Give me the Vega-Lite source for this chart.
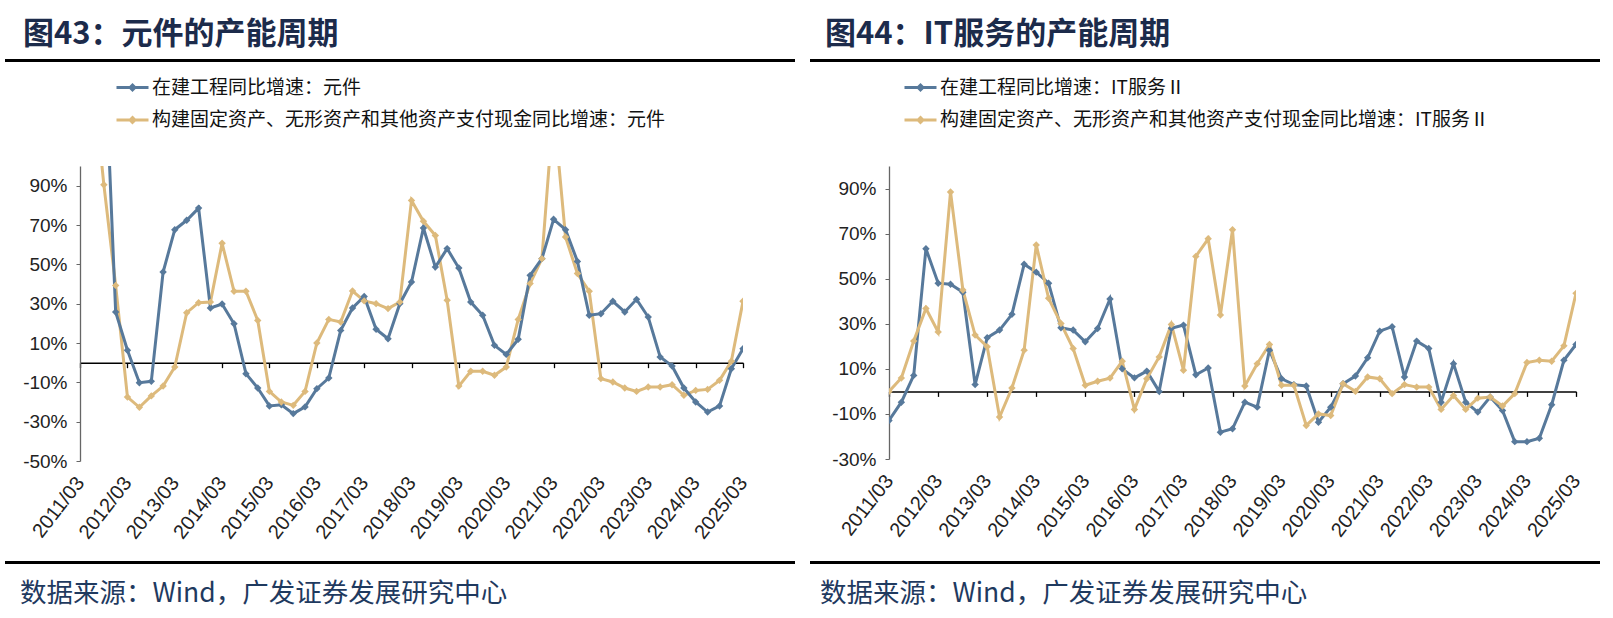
{
  "$schema": "https://vega.github.io/schema/vega-lite/v6.json",
  "background": "white",
  "padding": {"left": 5, "top": 19, "right": 0, "bottom": 12},
  "config": {"view": {"stroke": null}, "font": "Liberation Sans"},
  "datasets": {
    "left": [
      {"d": "2011-06-01", "b": 150},
      {"d": "2011-09-01", "a": 170, "b": 90.5},
      {"d": "2011-12-01", "a": 25.8, "b": 39.3},
      {"d": "2012-03-01", "a": 6.3, "b": -17.5},
      {"d": "2012-06-01", "a": -10.2, "b": -22.7},
      {"d": "2012-09-01", "a": -9.5, "b": -16.9},
      {"d": "2012-12-01", "a": 46.1, "b": -11.9},
      {"d": "2013-03-01", "a": 67.6, "b": -2.2},
      {"d": "2013-06-01", "a": 72.4, "b": 25.4},
      {"d": "2013-09-01", "a": 78.6, "b": 30.5},
      {"d": "2013-12-01", "a": 27.8, "b": 30.8},
      {"d": "2014-03-01", "a": 29.8, "b": 60.7},
      {"d": "2014-06-01", "a": 19.8, "b": 36.3},
      {"d": "2014-09-01", "a": -5.6, "b": 36.3},
      {"d": "2014-12-01", "a": -12.9, "b": 21.5},
      {"d": "2015-03-01", "a": -22, "b": -14.6},
      {"d": "2015-06-01", "a": -21.4, "b": -20},
      {"d": "2015-09-01", "a": -25.9, "b": -21.7},
      {"d": "2015-12-01", "a": -22.5, "b": -14.6},
      {"d": "2016-03-01", "a": -13.2, "b": 10},
      {"d": "2016-06-01", "a": -7.8, "b": 22},
      {"d": "2016-09-01", "a": 16.4, "b": 20.7},
      {"d": "2016-12-01", "a": 27.8, "b": 36.4},
      {"d": "2017-03-01", "a": 33.7, "b": 31.4},
      {"d": "2017-06-01", "a": 17, "b": 30},
      {"d": "2017-09-01", "a": 12.2, "b": 27.5},
      {"d": "2017-12-01", "a": 30, "b": 30.8},
      {"d": "2018-03-01", "a": 41, "b": 82.5},
      {"d": "2018-06-01", "a": 68.5, "b": 71.9},
      {"d": "2018-09-01", "a": 48.6, "b": 64.7},
      {"d": "2018-12-01", "a": 58, "b": 31.7},
      {"d": "2019-03-01", "a": 48.1, "b": -11.9},
      {"d": "2019-06-01", "a": 30.8, "b": -4.4},
      {"d": "2019-09-01", "a": 24.1, "b": -4.4},
      {"d": "2019-12-01", "a": 8.8, "b": -6.4},
      {"d": "2020-03-01", "a": 4.2, "b": -2.2},
      {"d": "2020-06-01", "a": 11.9, "b": 22},
      {"d": "2020-09-01", "a": 44.4, "b": 40.2},
      {"d": "2020-12-01", "a": 52.9, "b": 52.9},
      {"d": "2021-03-01", "a": 72.9, "b": 130},
      {"d": "2021-06-01", "a": 67.6, "b": 63.9},
      {"d": "2021-09-01", "a": 51.5, "b": 45.3},
      {"d": "2021-12-01", "a": 24.1, "b": 36.3},
      {"d": "2022-03-01", "a": 24.9, "b": -8.1},
      {"d": "2022-06-01", "a": 31.2, "b": -9.8},
      {"d": "2022-09-01", "a": 25.8, "b": -12.9},
      {"d": "2022-12-01", "a": 32.2, "b": -14.6},
      {"d": "2023-03-01", "a": 23.2, "b": -12.4},
      {"d": "2023-06-01", "a": 2.9, "b": -12.4},
      {"d": "2023-09-01", "a": -1.7, "b": -11.2},
      {"d": "2023-12-01", "a": -12.9, "b": -16.6},
      {"d": "2024-03-01", "a": -20, "b": -14.1},
      {"d": "2024-06-01", "a": -25.1, "b": -13.6},
      {"d": "2024-09-01", "a": -22, "b": -9.0},
      {"d": "2024-12-01", "a": -3.1, "b": 0.7},
      {"d": "2025-03-01", "a": 7.1, "b": 31.2}
    ],
    "right": [
      {"d": "2011-03-01", "a": -12.9, "b": 0},
      {"d": "2011-06-01", "a": -4.8, "b": 5.9},
      {"d": "2011-09-01", "a": 7.1, "b": 22.3},
      {"d": "2011-12-01", "a": 63.3, "b": 36.8},
      {"d": "2012-03-01", "a": 48, "b": 26.4},
      {"d": "2012-06-01", "a": 47.5, "b": 88.5},
      {"d": "2012-09-01", "a": 44, "b": 45},
      {"d": "2012-12-01", "a": 3.0, "b": 25},
      {"d": "2013-03-01", "a": 23.8, "b": 19.8},
      {"d": "2013-06-01", "a": 27.2, "b": -11.4},
      {"d": "2013-09-01", "a": 34.2, "b": 1.5},
      {"d": "2013-12-01", "a": 56.4, "b": 18.3},
      {"d": "2014-03-01", "a": 52.9, "b": 65},
      {"d": "2014-06-01", "a": 48, "b": 41.3},
      {"d": "2014-09-01", "a": 28.2, "b": 30.1},
      {"d": "2014-12-01", "a": 27.2, "b": 19},
      {"d": "2015-03-01", "a": 22, "b": 2.7},
      {"d": "2015-06-01", "a": 27.9, "b": 4.5},
      {"d": "2015-09-01", "a": 41, "b": 5.9},
      {"d": "2015-12-01", "a": 10, "b": 13.4},
      {"d": "2016-03-01", "a": 6, "b": -8},
      {"d": "2016-06-01", "a": 9, "b": 5.6},
      {"d": "2016-09-01", "a": 0, "b": 15.3},
      {"d": "2016-12-01", "a": 28, "b": 29.7},
      {"d": "2017-03-01", "a": 29.4, "b": 9.4},
      {"d": "2017-06-01", "a": 7.4, "b": 59.9},
      {"d": "2017-09-01", "a": 10.4, "b": 67.7},
      {"d": "2017-12-01", "a": -18.1, "b": 33.9},
      {"d": "2018-03-01", "a": -16.6, "b": 71.7},
      {"d": "2018-06-01", "a": -4.8, "b": 2.4},
      {"d": "2018-09-01", "a": -7.0, "b": 12.3},
      {"d": "2018-12-01", "a": 18.3, "b": 20.8},
      {"d": "2019-03-01", "a": 5.6, "b": 2.7},
      {"d": "2019-06-01", "a": 3.0, "b": 2.7},
      {"d": "2019-09-01", "a": 2.4, "b": -15.1},
      {"d": "2019-12-01", "a": -13.7, "b": -10},
      {"d": "2020-03-01", "a": -7.0, "b": -10.7},
      {"d": "2020-06-01", "a": 3.4, "b": 3.4},
      {"d": "2020-09-01", "a": 6.8, "b": 0},
      {"d": "2020-12-01", "a": 14.9, "b": 6.4},
      {"d": "2021-03-01", "a": 26.7, "b": 5.6},
      {"d": "2021-06-01", "a": 28.7, "b": -1},
      {"d": "2021-09-01", "a": 6.4, "b": 3.0},
      {"d": "2021-12-01", "a": 22.3, "b": 1.9},
      {"d": "2022-03-01", "a": 19, "b": 1.9},
      {"d": "2022-06-01", "a": -4.8, "b": -8},
      {"d": "2022-09-01", "a": 12.3, "b": -1.8},
      {"d": "2022-12-01", "a": -4.8, "b": -8},
      {"d": "2023-03-01", "a": -9.2, "b": -3.0},
      {"d": "2023-06-01", "a": -2.5, "b": -2.5},
      {"d": "2023-09-01", "a": -8.5, "b": -6.5},
      {"d": "2023-12-01", "a": -22.3, "b": -1.0},
      {"d": "2024-03-01", "a": -22.3, "b": 12.8},
      {"d": "2024-06-01", "a": -20.8, "b": 13.8},
      {"d": "2024-09-01", "a": -5.9, "b": 13.4},
      {"d": "2024-12-01", "a": 13.8, "b": 20.2},
      {"d": "2025-03-01", "a": 20.8, "b": 43.5}
    ]
  },
  "columns": 1,
  "spacing": 8,
  "resolve": {"scale": {"color": "independent"}, "legend": {"color": "independent"}},
  "concat": [
    {
      "spacing": 15,
      "hconcat": [
        {
          "width": 790, "height": 3,
          "data": {"values": []},
          "mark": "point",
          "view": {"fill": "#000000", "stroke": null},
          "title": {"text": "图43：元件的产能周期", "anchor": "start", "dx": 18, "offset": 8, "fontSize": 31, "font": "Noto Sans CJK SC", "fontWeight": "bold", "color": "#1C2B4B"}
        },
        {
          "width": 790, "height": 3,
          "data": {"values": []},
          "mark": "point",
          "view": {"fill": "#000000", "stroke": null},
          "title": {"text": "图44：IT服务的产能周期", "anchor": "start", "dx": 15, "offset": 8, "fontSize": 31, "font": "Noto Sans CJK SC", "fontWeight": "bold", "color": "#1C2B4B"}
        }
      ]
    },
    {
      "columns": 1,
      "spacing": 18,
      "resolve": {"scale": {"color": "independent"}, "legend": {"color": "independent"}},
      "concat": [
        {
          "spacing": 0,
          "resolve": {"scale": {"color": "independent"}, "legend": {"color": "independent"}},
          "hconcat": [
            {"width": 1, "height": 1, "data": {"values": []}, "mark": "point"},
            {
              "width": 663, "height": 295,
              "data": {"name": "left"},
              "transform": [{"fold": ["a", "b"], "as": ["k", "v"]}, {"filter": "isValid(datum.v)"}],
              "layer": [
                {
                  "mark": {"type": "line", "strokeWidth": 3, "clip": true},
                  "encoding": {
                    "x": {"field": "d", "type": "temporal",
                      "scale": {"type": "utc", "domain": [{"year": 2011, "month": 3, "date": 1, "utc": true}, {"year": 2025, "month": 3, "date": 1, "utc": true}]},
                      "axis": {"orient": "bottom", "title": null, "format": "%Y/%m", "labelAngle": -52, "domain": false, "ticks": false, "tickSize": 0, "grid": false, "labelPadding": 18, "labelFontSize": 20, "labelColor": "#222222", "labelOverlap": false, "labelFlush": false, "labelBound": false,
                        "values": [{"year": 2011, "month": 3, "date": 1, "utc": true}, {"year": 2012, "month": 3, "date": 1, "utc": true}, {"year": 2013, "month": 3, "date": 1, "utc": true}, {"year": 2014, "month": 3, "date": 1, "utc": true}, {"year": 2015, "month": 3, "date": 1, "utc": true}, {"year": 2016, "month": 3, "date": 1, "utc": true}, {"year": 2017, "month": 3, "date": 1, "utc": true}, {"year": 2018, "month": 3, "date": 1, "utc": true}, {"year": 2019, "month": 3, "date": 1, "utc": true}, {"year": 2020, "month": 3, "date": 1, "utc": true}, {"year": 2021, "month": 3, "date": 1, "utc": true}, {"year": 2022, "month": 3, "date": 1, "utc": true}, {"year": 2023, "month": 3, "date": 1, "utc": true}, {"year": 2024, "month": 3, "date": 1, "utc": true}, {"year": 2025, "month": 3, "date": 1, "utc": true}]}},
                    "y": {"field": "v", "type": "quantitative", "scale": {"domain": [-50, 100], "nice": false, "zero": false},
                      "axis": {"title": null, "grid": false, "values": [-50, -30, -10, 10, 30, 50, 70, 90], "labelExpr": "datum.value + '%'", "domainColor": "#666666", "tickColor": "#666666", "tickSize": 4, "labelPadding": 9, "labelFontSize": 19, "labelColor": "#222222", "minExtent": 74, "domainWidth": 1.3}},
                    "color": {"field": "k", "type": "nominal", "scale": {"domain": ["a", "b"], "range": ["#57799B", "#DDBA7C"]},
                      "legend": {"orient": "none", "legendX": 35, "legendY": -96, "title": null, "direction": "vertical", "padding": 0,
                        "symbolType": "M-1,0H1M-0.15,0L0,-0.15L0.15,0L0,0.15Z", "symbolSize": 1024, "symbolStrokeWidth": 3,
                        "labelFontSize": 19, "labelFont": "Noto Sans CJK SC", "labelColor": "#111111", "labelOffset": 2, "rowPadding": 4.5, "labelLimit": 0,
                        "labelExpr": "datum.label == 'a' ? '在建工程同比增速：元件' : '构建固定资产、无形资产和其他资产支付现金同比增速：元件'"}}
                  }
                },
                {
                  "mark": {"type": "point", "shape": "diamond", "filled": true, "size": 55, "opacity": 1, "clip": true},
                  "encoding": {
                    "x": {"field": "d", "type": "temporal",
                      "axis": {"orient": "bottom", "offset": -98.33, "title": null, "labels": false, "ticks": true, "tickSize": 5, "tickColor": "#000000", "tickWidth": 1.3, "domainColor": "#000000", "domainWidth": 1.5, "grid": false,
                        "values": [{"year": 2011, "month": 3, "date": 1, "utc": true}, {"year": 2012, "month": 3, "date": 1, "utc": true}, {"year": 2013, "month": 3, "date": 1, "utc": true}, {"year": 2014, "month": 3, "date": 1, "utc": true}, {"year": 2015, "month": 3, "date": 1, "utc": true}, {"year": 2016, "month": 3, "date": 1, "utc": true}, {"year": 2017, "month": 3, "date": 1, "utc": true}, {"year": 2018, "month": 3, "date": 1, "utc": true}, {"year": 2019, "month": 3, "date": 1, "utc": true}, {"year": 2020, "month": 3, "date": 1, "utc": true}, {"year": 2021, "month": 3, "date": 1, "utc": true}, {"year": 2022, "month": 3, "date": 1, "utc": true}, {"year": 2023, "month": 3, "date": 1, "utc": true}, {"year": 2024, "month": 3, "date": 1, "utc": true}, {"year": 2025, "month": 3, "date": 1, "utc": true}]}},
                    "y": {"field": "v", "type": "quantitative",
                      "axis": {"title": null, "grid": false, "values": [-50, -30, -10, 10, 30, 50, 70, 90], "labelExpr": "datum.value + '%'", "domainColor": "#666666", "tickColor": "#666666", "tickSize": 4, "labelPadding": 9, "labelFontSize": 19, "labelColor": "#222222", "minExtent": 74, "domainWidth": 1.3}},
                    "color": {"field": "k", "type": "nominal"}
                  }
                }
              ],
              "resolve": {"axis": {"x": "independent"}}
            },
            {
              "width": 687, "height": 293,
              "data": {"name": "right"},
              "transform": [{"fold": ["a", "b"], "as": ["k", "v"]}, {"filter": "isValid(datum.v)"}],
              "layer": [
                {
                  "mark": {"type": "line", "strokeWidth": 3, "clip": true},
                  "encoding": {
                    "x": {"field": "d", "type": "temporal",
                      "scale": {"type": "utc", "domain": [{"year": 2011, "month": 3, "date": 1, "utc": true}, {"year": 2025, "month": 3, "date": 1, "utc": true}]},
                      "axis": {"orient": "bottom", "title": null, "format": "%Y/%m", "labelAngle": -52, "domain": false, "ticks": false, "tickSize": 0, "grid": false, "labelPadding": 18, "labelFontSize": 20, "labelColor": "#222222", "labelOverlap": false, "labelFlush": false, "labelBound": false,
                        "values": [{"year": 2011, "month": 3, "date": 1, "utc": true}, {"year": 2012, "month": 3, "date": 1, "utc": true}, {"year": 2013, "month": 3, "date": 1, "utc": true}, {"year": 2014, "month": 3, "date": 1, "utc": true}, {"year": 2015, "month": 3, "date": 1, "utc": true}, {"year": 2016, "month": 3, "date": 1, "utc": true}, {"year": 2017, "month": 3, "date": 1, "utc": true}, {"year": 2018, "month": 3, "date": 1, "utc": true}, {"year": 2019, "month": 3, "date": 1, "utc": true}, {"year": 2020, "month": 3, "date": 1, "utc": true}, {"year": 2021, "month": 3, "date": 1, "utc": true}, {"year": 2022, "month": 3, "date": 1, "utc": true}, {"year": 2023, "month": 3, "date": 1, "utc": true}, {"year": 2024, "month": 3, "date": 1, "utc": true}, {"year": 2025, "month": 3, "date": 1, "utc": true}]}},
                    "y": {"field": "v", "type": "quantitative", "scale": {"domain": [-30, 100], "nice": false, "zero": false},
                      "axis": {"title": null, "grid": false, "values": [-30, -10, 10, 30, 50, 70, 90], "labelExpr": "datum.value + '%'", "domainColor": "#666666", "tickColor": "#666666", "tickSize": 4, "labelPadding": 9, "labelFontSize": 19, "labelColor": "#222222", "minExtent": 138, "domainWidth": 1.3}},
                    "color": {"field": "k", "type": "nominal", "scale": {"domain": ["a", "b"], "range": ["#57799B", "#DDBA7C"]},
                      "legend": {"orient": "none", "legendX": 14, "legendY": -96, "title": null, "direction": "vertical", "padding": 0,
                        "symbolType": "M-1,0H1M-0.15,0L0,-0.15L0.15,0L0,0.15Z", "symbolSize": 1024, "symbolStrokeWidth": 3,
                        "labelFontSize": 19, "labelFont": "Noto Sans CJK SC", "labelColor": "#111111", "labelOffset": 2, "rowPadding": 4.5, "labelLimit": 0,
                        "labelExpr": "datum.label == 'a' ? '在建工程同比增速：IT服务Ⅱ' : '构建固定资产、无形资产和其他资产支付现金同比增速：IT服务Ⅱ'"}}
                  }
                },
                {
                  "mark": {"type": "point", "shape": "diamond", "filled": true, "size": 55, "opacity": 1, "clip": true},
                  "encoding": {
                    "x": {"field": "d", "type": "temporal",
                      "axis": {"orient": "bottom", "offset": -67.6, "title": null, "labels": false, "ticks": true, "tickSize": 5, "tickColor": "#000000", "tickWidth": 1.3, "domainColor": "#000000", "domainWidth": 1.5, "grid": false,
                        "values": [{"year": 2011, "month": 3, "date": 1, "utc": true}, {"year": 2012, "month": 3, "date": 1, "utc": true}, {"year": 2013, "month": 3, "date": 1, "utc": true}, {"year": 2014, "month": 3, "date": 1, "utc": true}, {"year": 2015, "month": 3, "date": 1, "utc": true}, {"year": 2016, "month": 3, "date": 1, "utc": true}, {"year": 2017, "month": 3, "date": 1, "utc": true}, {"year": 2018, "month": 3, "date": 1, "utc": true}, {"year": 2019, "month": 3, "date": 1, "utc": true}, {"year": 2020, "month": 3, "date": 1, "utc": true}, {"year": 2021, "month": 3, "date": 1, "utc": true}, {"year": 2022, "month": 3, "date": 1, "utc": true}, {"year": 2023, "month": 3, "date": 1, "utc": true}, {"year": 2024, "month": 3, "date": 1, "utc": true}, {"year": 2025, "month": 3, "date": 1, "utc": true}]}},
                    "y": {"field": "v", "type": "quantitative",
                      "axis": {"title": null, "grid": false, "values": [-30, -10, 10, 30, 50, 70, 90], "labelExpr": "datum.value + '%'", "domainColor": "#666666", "tickColor": "#666666", "tickSize": 4, "labelPadding": 9, "labelFontSize": 19, "labelColor": "#222222", "minExtent": 138, "domainWidth": 1.3}},
                    "color": {"field": "k", "type": "nominal"}
                  }
                }
              ],
              "resolve": {"axis": {"x": "independent"}}
            }
          ]
        },
        {
          "spacing": 15,
          "hconcat": [
            {
              "width": 790, "height": 3,
              "data": {"values": []},
              "mark": "point",
              "view": {"fill": "#000000", "stroke": null},
              "title": {"text": "数据来源：Wind，广发证券发展研究中心", "orient": "bottom", "anchor": "start", "dx": 15, "offset": 17, "fontSize": 26.5, "font": "Noto Sans CJK SC", "fontWeight": "normal", "color": "#1F3A5F"}
            },
            {
              "width": 790, "height": 3,
              "data": {"values": []},
              "mark": "point",
              "view": {"fill": "#000000", "stroke": null},
              "title": {"text": "数据来源：Wind，广发证券发展研究中心", "orient": "bottom", "anchor": "start", "dx": 10, "offset": 17, "fontSize": 26.5, "font": "Noto Sans CJK SC", "fontWeight": "normal", "color": "#1F3A5F"}
            }
          ]
        }
      ]
    }
  ]
}
